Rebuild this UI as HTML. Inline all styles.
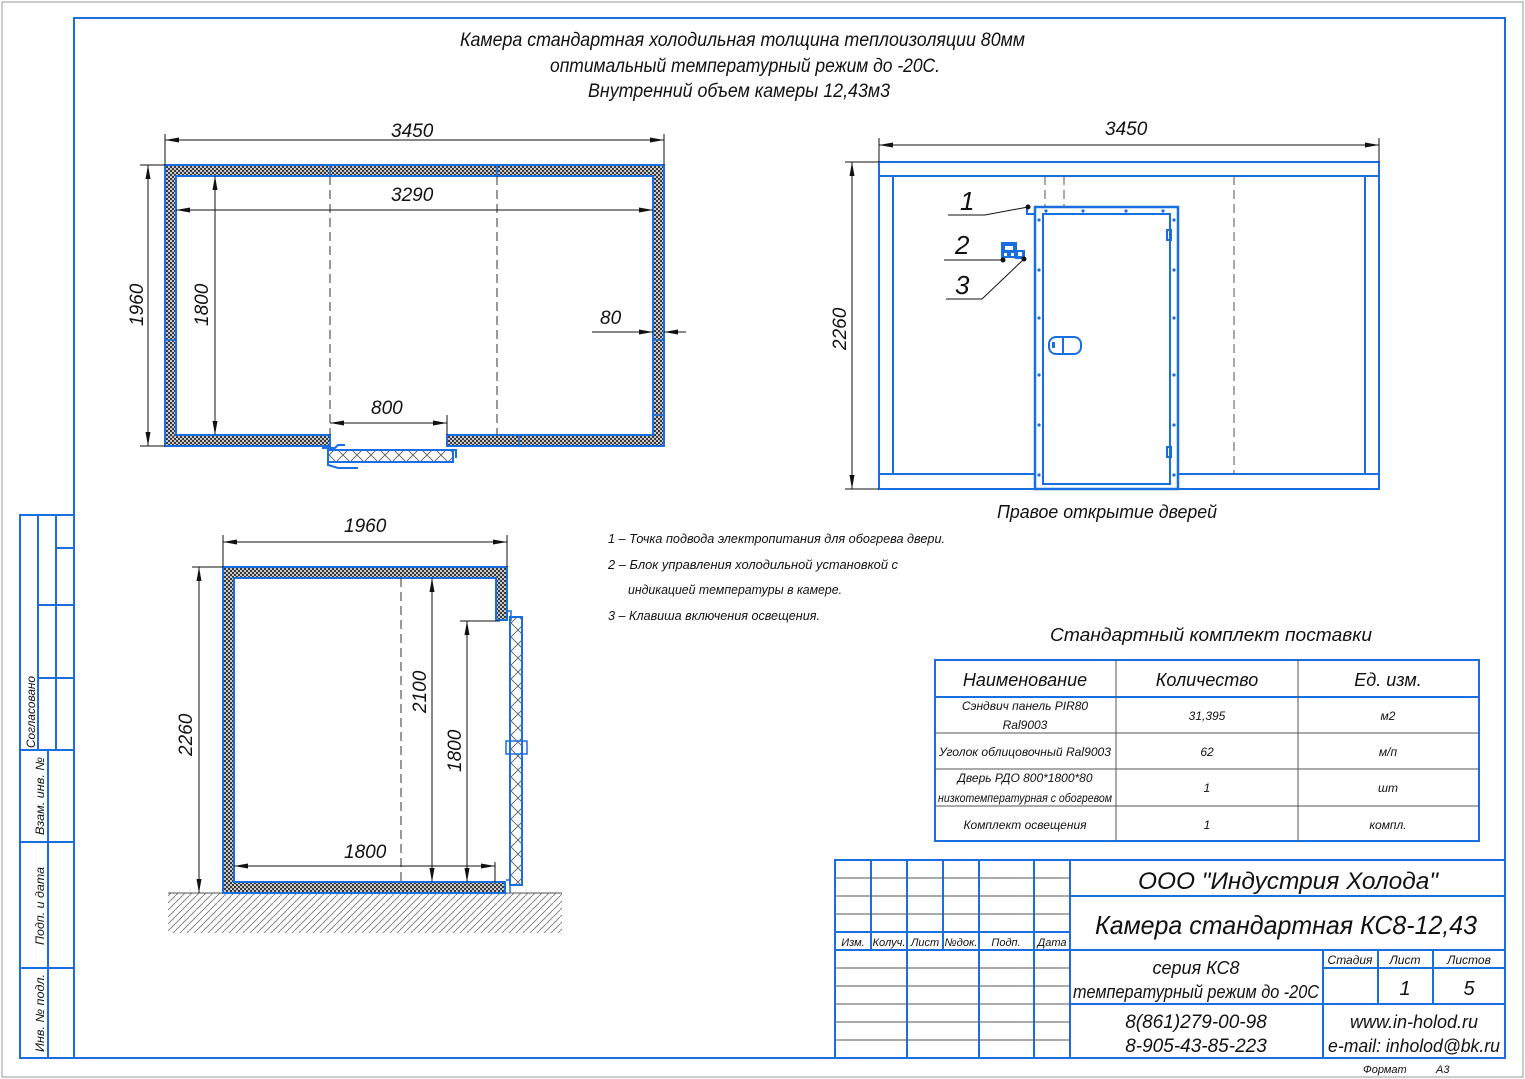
<!DOCTYPE html>
<html><head><meta charset="utf-8">
<style>
html,body{margin:0;padding:0;background:#fff;}
svg{display:block;}
text{font-family:"Liberation Sans",sans-serif;font-style:italic;fill:#111;}
</style></head>
<body>
<svg width="1525" height="1079" viewBox="0 0 1525 1079" xmlns="http://www.w3.org/2000/svg">
<defs>
<pattern id="chk" width="4" height="4" patternUnits="userSpaceOnUse">
<rect width="4" height="4" fill="#c8c8c8"/>
<rect width="2" height="2" fill="#3a3a3a"/>
<rect x="2" y="2" width="2" height="2" fill="#3a3a3a"/>
</pattern>
<pattern id="xh" width="14" height="14" patternUnits="userSpaceOnUse">
<rect width="14" height="14" fill="#fff"/>
<path d="M0 0L14 14M14 0L0 14" stroke="#555" stroke-width="0.8"/>
</pattern>
<pattern id="gnd" width="7" height="7" patternUnits="userSpaceOnUse">
<path d="M-1 8L8 -1" stroke="#777" stroke-width="0.9"/>
</pattern>
<marker id="ar" markerWidth="14" markerHeight="6" refX="14" refY="3" orient="auto-start-reverse" markerUnits="userSpaceOnUse">
<path d="M0 0.5L14 3L0 5.5Z" fill="#111"/>
</marker>
</defs>

<rect x="2" y="2" width="1521" height="1075" fill="none" stroke="#999" stroke-width="1"/>
<rect x="74" y="18" width="1431" height="1040" fill="none" stroke="#1a6fe0" stroke-width="2"/>

<g stroke="#1a6fe0" stroke-width="2" fill="none">
<rect x="20" y="515" width="54" height="543"/>
<line x1="38" y1="515" x2="38" y2="750"/>
<line x1="56" y1="515" x2="56" y2="750"/>
<line x1="56" y1="548" x2="74" y2="548"/>
<line x1="38" y1="605" x2="74" y2="605"/>
<line x1="38" y1="678" x2="74" y2="678"/>
<line x1="20" y1="750" x2="74" y2="750"/>
<line x1="48" y1="750" x2="48" y2="1058"/>
<line x1="20" y1="842" x2="74" y2="842"/>
<line x1="20" y1="968" x2="74" y2="968"/>
</g>
<g font-size="12">
<text transform="translate(35,748) rotate(-90)" textLength="72" lengthAdjust="spacingAndGlyphs">Согласовано</text>
<text transform="translate(44,835) rotate(-90)" textLength="78" lengthAdjust="spacingAndGlyphs">Взам. инв. №</text>
<text transform="translate(44,945) rotate(-90)" textLength="78" lengthAdjust="spacingAndGlyphs">Подп. и дата</text>
<text transform="translate(44,1052) rotate(-90)" textLength="78" lengthAdjust="spacingAndGlyphs">Инв. № подл.</text>
</g>

<g font-size="19">
<text x="460" y="46" textLength="565" lengthAdjust="spacingAndGlyphs">Камера стандартная холодильная толщина теплоизоляции 80мм</text>
<text x="550" y="72" textLength="390" lengthAdjust="spacingAndGlyphs">оптимальный температурный режим до -20С.</text>
<text x="588" y="97" textLength="302" lengthAdjust="spacingAndGlyphs">Внутренний объем камеры 12,43м3</text>
</g>

<g>
<path d="M165 165H664V446H447V435H653V176H176V435H330V446H165Z" fill="url(#chk)" stroke="#1a6fe0" stroke-width="2"/>
<g stroke="#1a6fe0" stroke-width="1.5">
<line x1="330" y1="165" x2="330" y2="176"/><line x1="497" y1="165" x2="497" y2="176"/>
<line x1="165" y1="340" x2="176" y2="340"/><line x1="653" y1="340" x2="664" y2="340"/>
<line x1="519" y1="435" x2="519" y2="446"/><line x1="653" y1="415" x2="664" y2="415"/>
</g>
<g stroke="#333" stroke-width="1" stroke-dasharray="9,5">
<line x1="330" y1="176" x2="330" y2="435"/><line x1="497" y1="176" x2="497" y2="435"/>
</g>
<rect x="328" y="450" width="125" height="12" fill="url(#xh)" stroke="#1a6fe0" stroke-width="2"/>
<path d="M322 448H335L338 445H345M328 450V465L338 468H358M448 450H456V458" fill="none" stroke="#1a6fe0" stroke-width="2"/>
<g stroke="#111" stroke-width="1" fill="none">
<line x1="165" y1="165" x2="165" y2="134"/><line x1="664" y1="165" x2="664" y2="134"/>
<line x1="165" y1="140" x2="664" y2="140" marker-start="url(#ar)" marker-end="url(#ar)"/>
<line x1="176" y1="210" x2="653" y2="210" marker-start="url(#ar)" marker-end="url(#ar)"/>
<line x1="165" y1="165" x2="140" y2="165"/><line x1="165" y1="446" x2="140" y2="446"/>
<line x1="148" y1="165" x2="148" y2="446" marker-start="url(#ar)" marker-end="url(#ar)"/>
<line x1="215" y1="176" x2="215" y2="435" marker-start="url(#ar)" marker-end="url(#ar)"/>
<line x1="592" y1="332" x2="653" y2="332" marker-end="url(#ar)"/>
<line x1="686" y1="332" x2="664" y2="332" marker-end="url(#ar)"/>
<line x1="447" y1="415" x2="447" y2="435"/>
<line x1="330" y1="423" x2="447" y2="423" marker-start="url(#ar)" marker-end="url(#ar)"/>
</g>
<g font-size="19">
<text x="391" y="137">3450</text>
<text x="391" y="201">3290</text>
<text transform="translate(143,326) rotate(-90)">1960</text>
<text transform="translate(208,326) rotate(-90)">1800</text>
<text x="600" y="324">80</text>
<text x="371" y="414">800</text>
</g>
</g>

<g>
<g fill="none" stroke="#1a6fe0" stroke-width="2">
<rect x="879" y="162" width="500" height="327"/>
<line x1="879" y1="176" x2="1379" y2="176"/>
<line x1="879" y1="474" x2="1035" y2="474"/><line x1="1178" y1="474" x2="1379" y2="474"/>
<line x1="893" y1="176" x2="893" y2="474"/><line x1="1365" y1="176" x2="1365" y2="474"/>
<rect x="1035" y="207" width="143" height="282" stroke-width="2.5"/>
<rect x="1043" y="214" width="127" height="270"/>
<rect x="1049" y="337" width="32" height="17" rx="7"/>
<line x1="1063" y1="337" x2="1063" y2="354"/>
<rect x="1167" y="230" width="4" height="10"/><rect x="1167" y="447" width="4" height="10"/>
<path d="M1027 207V214H1035"/>
</g>
<rect x="1052" y="342" width="3" height="6" fill="#1a6fe0"/>
<g fill="#1a6fe0">
<circle cx="1046" cy="211" r="1.6"/><circle cx="1083" cy="211" r="1.6"/><circle cx="1126" cy="211" r="1.6"/><circle cx="1163" cy="211" r="1.6"/>
<circle cx="1039" cy="220" r="1.6"/><circle cx="1039" cy="270" r="1.6"/><circle cx="1039" cy="318" r="1.6"/><circle cx="1039" cy="375" r="1.6"/><circle cx="1039" cy="425" r="1.6"/><circle cx="1039" cy="475" r="1.6"/>
<circle cx="1174" cy="220" r="1.6"/><circle cx="1174" cy="270" r="1.6"/><circle cx="1174" cy="318" r="1.6"/><circle cx="1174" cy="375" r="1.6"/><circle cx="1174" cy="425" r="1.6"/><circle cx="1174" cy="475" r="1.6"/>
<rect x="1001" y="242" width="16" height="16"/><rect x="1015" y="250" width="10" height="9"/>
</g>
<g fill="#fff"><rect x="1005" y="246" width="8" height="4"/><rect x="1004" y="253" width="3" height="3"/><rect x="1011" y="253" width="3" height="3"/><rect x="1018" y="252" width="4" height="4"/></g>
<g stroke="#555" stroke-width="1" stroke-dasharray="9,5">
<line x1="1045" y1="176" x2="1045" y2="207"/><line x1="1064" y1="176" x2="1064" y2="207"/>
<line x1="1234" y1="176" x2="1234" y2="474"/>
</g>
<g stroke="#111" stroke-width="1" fill="none">
<line x1="879" y1="162" x2="879" y2="138"/><line x1="1379" y1="162" x2="1379" y2="138"/>
<line x1="879" y1="145" x2="1379" y2="145" marker-start="url(#ar)" marker-end="url(#ar)"/>
<line x1="879" y1="162" x2="845" y2="162"/><line x1="879" y1="489" x2="845" y2="489"/>
<line x1="852" y1="162" x2="852" y2="489" marker-start="url(#ar)" marker-end="url(#ar)"/>
<path d="M948 215H985L1028 207"/>
<path d="M944 260H1003"/>
<path d="M946 299H982L1024 259"/>
</g>
<g fill="#111"><circle cx="1028" cy="207" r="2.5"/><circle cx="1003" cy="260" r="2.5"/><circle cx="1024" cy="259" r="2.5"/></g>
<g font-size="19">
<text x="1105" y="135">3450</text>
<text transform="translate(846,350) rotate(-90)">2260</text>
</g>
<g font-size="26"><text x="960" y="210">1</text><text x="955" y="254">2</text><text x="955" y="294">3</text></g>
<text x="997" y="518" font-size="18" textLength="220" lengthAdjust="spacingAndGlyphs">Правое открытие дверей</text>
</g>

<g>
<rect x="168" y="893" width="394" height="40" fill="url(#gnd)"/>
<line x1="168" y1="893" x2="562" y2="893" stroke="#555" stroke-width="1"/>
<path d="M223 567H507V620H496V578H234V882H505V893H223Z" fill="url(#chk)" stroke="#1a6fe0" stroke-width="2"/>
<rect x="510" y="617" width="12" height="268" fill="url(#xh)" stroke="#1a6fe0" stroke-width="2"/>
<path d="M506 611H511V621M506 880H510V893" fill="none" stroke="#1a6fe0" stroke-width="1.5"/>
<rect x="506" y="741" width="21" height="13" fill="none" stroke="#1a6fe0" stroke-width="1.5"/>
<line x1="401" y1="578" x2="401" y2="882" stroke="#333" stroke-width="1" stroke-dasharray="9,5"/>
<g stroke="#111" stroke-width="1" fill="none">
<line x1="223" y1="567" x2="223" y2="535"/><line x1="507" y1="567" x2="507" y2="535"/>
<line x1="223" y1="542" x2="507" y2="542" marker-start="url(#ar)" marker-end="url(#ar)"/>
<line x1="223" y1="567" x2="192" y2="567"/>
<line x1="199" y1="567" x2="199" y2="893" marker-start="url(#ar)" marker-end="url(#ar)"/>
<line x1="432" y1="578" x2="432" y2="882" marker-start="url(#ar)" marker-end="url(#ar)"/>
<line x1="460" y1="621" x2="500" y2="621"/>
<line x1="467" y1="621" x2="467" y2="882" marker-start="url(#ar)" marker-end="url(#ar)"/>
<line x1="495" y1="862" x2="495" y2="882"/>
<line x1="234" y1="866" x2="495" y2="866" marker-start="url(#ar)" marker-end="url(#ar)"/>
</g>
<g font-size="19">
<text x="344" y="532">1960</text>
<text transform="translate(192,756) rotate(-90)">2260</text>
<text transform="translate(426,713) rotate(-90)">2100</text>
<text transform="translate(461,772) rotate(-90)">1800</text>
<text x="344" y="858">1800</text>
</g>
</g>

<g font-size="12.5">
<text x="608" y="543" textLength="337" lengthAdjust="spacingAndGlyphs">1 – Точка подвода электропитания для обогрева двери.</text>
<text x="608" y="569" textLength="290" lengthAdjust="spacingAndGlyphs">2 – Блок управления холодильной установкой с</text>
<text x="628" y="594" textLength="214" lengthAdjust="spacingAndGlyphs">индикацией температуры в камере.</text>
<text x="608" y="620" textLength="212" lengthAdjust="spacingAndGlyphs">3 – Клавиша включения освещения.</text>
</g>

<text x="1050" y="641" font-size="18" textLength="322" lengthAdjust="spacingAndGlyphs">Стандартный комплект поставки</text>
<rect x="935" y="660" width="544" height="181" fill="none" stroke="#1a6fe0" stroke-width="2"/>
<g stroke="#555" stroke-width="1">
<line x1="935" y1="697" x2="1479" y2="697" stroke="#1a6fe0" stroke-width="2"/>
<line x1="935" y1="733" x2="1479" y2="733"/>
<line x1="935" y1="769" x2="1479" y2="769"/>
<line x1="935" y1="806" x2="1479" y2="806"/>
<line x1="1116" y1="660" x2="1116" y2="841"/>
<line x1="1298" y1="660" x2="1298" y2="841"/>
</g>
<g font-size="18" text-anchor="middle">
<text x="1025" y="686">Наименование</text>
<text x="1207" y="686">Количество</text>
<text x="1388" y="686">Ед. изм.</text>
</g>
<g font-size="12" text-anchor="middle">
<text x="1025" y="710">Сэндвич панель PIR80</text>
<text x="1025" y="729">Ral9003</text>
<text x="1207" y="720">31,395</text>
<text x="1388" y="720">м2</text>
<text x="1025" y="756" textLength="172" lengthAdjust="spacingAndGlyphs">Уголок облицовочный Ral9003</text>
<text x="1207" y="756">62</text>
<text x="1388" y="756">м/п</text>
<text x="1025" y="782">Дверь РДО 800*1800*80</text>
<text x="1025" y="802" textLength="174" lengthAdjust="spacingAndGlyphs">низкотемпературная с обогревом</text>
<text x="1207" y="792">1</text>
<text x="1388" y="792">шт</text>
<text x="1025" y="829">Комплект освещения</text>
<text x="1207" y="829">1</text>
<text x="1388" y="829">компл.</text>
</g>

<g fill="none" stroke="#1a6fe0" stroke-width="2">
<rect x="835" y="860" width="670" height="198"/>
<line x1="1070" y1="860" x2="1070" y2="1058"/>
<line x1="871" y1="860" x2="871" y2="950"/>
<line x1="907" y1="860" x2="907" y2="1058"/>
<line x1="943" y1="860" x2="943" y2="950"/>
<line x1="979" y1="860" x2="979" y2="1058"/>
<line x1="1034" y1="860" x2="1034" y2="1058"/>
<line x1="835" y1="950" x2="1070" y2="950"/>
<line x1="1070" y1="896" x2="1505" y2="896"/>
<line x1="1070" y1="950" x2="1505" y2="950"/>
<line x1="1070" y1="1004" x2="1505" y2="1004"/>
<line x1="1323" y1="950" x2="1323" y2="1058"/>
<line x1="1378" y1="950" x2="1378" y2="1004"/>
<line x1="1433" y1="950" x2="1433" y2="1004"/>
<line x1="1323" y1="968" x2="1505" y2="968"/>
<line x1="835" y1="932" x2="1070" y2="932"/>
</g>
<g stroke="#555" stroke-width="1">
<line x1="835" y1="878" x2="1070" y2="878"/><line x1="835" y1="896" x2="1070" y2="896"/><line x1="835" y1="914" x2="1070" y2="914"/>
<line x1="835" y1="968" x2="1070" y2="968"/><line x1="835" y1="986" x2="1070" y2="986"/><line x1="835" y1="1004" x2="1070" y2="1004"/><line x1="835" y1="1022" x2="1070" y2="1022"/><line x1="835" y1="1040" x2="1070" y2="1040"/>
</g>
<g font-size="11" text-anchor="middle">
<text x="853" y="946">Изм.</text><text x="889" y="946" textLength="33" lengthAdjust="spacingAndGlyphs">Колуч.</text><text x="925" y="946">Лист</text><text x="961" y="946" textLength="33" lengthAdjust="spacingAndGlyphs">№док.</text><text x="1006" y="946">Подп.</text><text x="1052" y="946">Дата</text>
</g>
<g text-anchor="middle">
<text x="1288" y="889" font-size="24" textLength="300" lengthAdjust="spacingAndGlyphs">ООО "Индустрия Холода"</text>
<text x="1286" y="934" font-size="26" textLength="382" lengthAdjust="spacingAndGlyphs">Камера стандартная КС8-12,43</text>
<text x="1196" y="974" font-size="18">серия КС8</text>
<text x="1196" y="998" font-size="18" textLength="246" lengthAdjust="spacingAndGlyphs">температурный режим до -20С</text>
<text x="1196" y="1028" font-size="19">8(861)279-00-98</text>
<text x="1196" y="1052" font-size="19">8-905-43-85-223</text>
<text x="1414" y="1028" font-size="18">www.in-holod.ru</text>
<text x="1414" y="1052" font-size="18" textLength="172" lengthAdjust="spacingAndGlyphs">e-mail: inholod@bk.ru</text>
<text x="1350" y="964" font-size="12">Стадия</text><text x="1405" y="964" font-size="12">Лист</text><text x="1469" y="964" font-size="12">Листов</text>
<text x="1405" y="995" font-size="20">1</text><text x="1469" y="995" font-size="20">5</text>
</g>
<text x="1363" y="1073" font-size="11">Формат</text>
<text x="1436" y="1073" font-size="11">А3</text>
</svg>
</body></html>
